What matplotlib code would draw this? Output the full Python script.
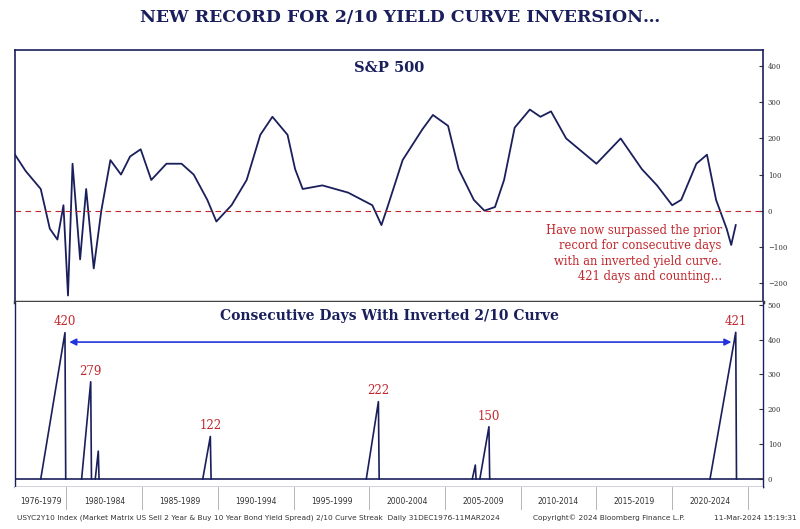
import matplotlib.pyplot as plt
from matplotlib.ticker import MultipleLocator

# 2/10 spread (bps)
spread_year = [1976.6, 1977.3, 1978.3, 1978.9, 1979.4, 1979.8, 1980.1, 1980.4, 1980.9, 1981.3,
               1981.8, 1982.3, 1982.9, 1983.6, 1984.2, 1984.9, 1985.6, 1986.6, 1987.6, 1988.4,
               1989.3, 1989.9, 1990.9, 1991.9, 1992.8, 1993.6, 1994.6, 1995.1, 1995.6, 1996.9,
               1998.6, 2000.2, 2000.8, 2001.2, 2002.2, 2003.5, 2004.2, 2005.2, 2005.9, 2006.9,
               2007.6, 2008.3, 2008.9, 2009.6, 2010.6, 2011.3, 2012.0, 2013.0, 2014.0, 2015.0,
               2016.6, 2018.0, 2019.0, 2020.0, 2020.6, 2021.6, 2022.3, 2022.9, 2023.6, 2023.9, 2024.2]
spread_bps = [155, 110, 60, -50, -80, 15, -235, 130, -135, 60,
              -160, 0, 140, 100, 150, 170, 85, 130, 130, 100,
              30, -30, 15, 85, 210, 260, 210, 115, 60, 70,
              50, 15, -40, 10, 140, 225, 265, 235, 115, 30,
              0, 10, 85, 230, 280, 260, 275, 200, 165, 130,
              200, 115, 70, 15, 30, 130, 155, 30, -50, -95, -40]

# inverted-curve streaks: start year, peak year, peak days
streak_start = [1978.3, 1981.0, 1981.9, 1989.0, 1999.8, 2006.8, 2007.3, 2022.5]
streak_peak = [1979.9, 1981.6, 1982.1, 1989.5, 2000.6, 2007.0, 2007.9, 2024.2]
streak_days = [420, 279, 80, 122, 222, 40, 150, 421]
labels_shown = [0, 1, 3, 4, 6, 7]

band_labels = ['1976-1979', '1980-1984', '1985-1989', '1990-1994', '1995-1999',
               '2000-2004', '2005-2009', '2010-2014', '2015-2019', '2020-2024']

navy = '#1a1f5c'
red = '#c0272d'
W, H = 800, 529
fig = plt.figure(figsize=(8, 5.29), dpi=100)
plt.rcParams['font.family'] = 'DejaVu Serif'

def ax_px(l, t, r, b):
    return fig.add_axes([l / W, 1 - b / H, (r - l) / W, (b - t) / H])

fig.text(0.5, 1 - 18 / H, 'NEW RECORD FOR 2/10 YIELD CURVE INVERSION…', ha='center', va='center',
         fontsize=12.5, fontweight='bold', color=navy)

xlim = (1976.6, 2026.0)
ax1 = ax_px(15, 50, 763, 302)
ax1.plot(spread_year, spread_bps, color=navy, lw=1.3)
ax1.axhline(0, color=red, ls=(0, (5, 4)), lw=0.8)
ax1.set_xlim(xlim); ax1.set_ylim(-253, 445)
ax1.yaxis.tick_right()
ax1.yaxis.set_major_locator(MultipleLocator(100))
ax1.tick_params(axis='y', labelsize=5, length=3, direction='in', colors='#333333')
ax1.set_xticks([])
ax1.text(0.5, 0.955, 'S&P 500', transform=ax1.transAxes, ha='center', va='top',
         fontsize=10.5, fontweight='bold', color=navy)
ax1.text(0.945, 0.31, 'Have now surpassed the prior\nrecord for consecutive days\nwith an inverted yield curve.\n421 days and counting…',
         transform=ax1.transAxes, ha='right', va='top', fontsize=8.3, color=red, linespacing=1.25)
for s in ax1.spines.values():
    s.set_color(navy); s.set_linewidth(1.2)
ax1.spines['bottom'].set_color('#444444'); ax1.spines['bottom'].set_linewidth(2.5)

ax2 = ax_px(15, 302, 763, 487)
for i in range(len(streak_days)):
    ax2.plot([streak_start[i], streak_peak[i], streak_peak[i] + 0.05],
             [0, streak_days[i], 0], color=navy, lw=1.2)
    if i in labels_shown:
        ax2.text(streak_peak[i], streak_days[i] + 12, str(streak_days[i]), ha='center', va='bottom',
                 fontsize=8.5, color=red)
ax2.axhline(0, color=navy, lw=1.2, zorder=0)
ax2.annotate('', xy=(streak_peak[7] - 0.1, 393), xytext=(streak_peak[0] + 0.1, 393),
             arrowprops=dict(arrowstyle='<|-|>', color='#2233dd', lw=1.2, mutation_scale=10))
ax2.set_xlim(xlim); ax2.set_ylim(-23, 508)
ax2.yaxis.tick_right()
ax2.yaxis.set_major_locator(MultipleLocator(100))
ax2.tick_params(axis='y', labelsize=5, length=3, direction='in', colors='#333333')
ax2.set_xticks([])
ax2.text(0.5, 0.96, 'Consecutive Days With Inverted 2/10 Curve', transform=ax2.transAxes,
         ha='center', va='top', fontsize=10, fontweight='bold', color=navy)
for s in ax2.spines.values():
    s.set_color(navy); s.set_linewidth(1.0)
ax2.spines['top'].set_visible(False)

# year band strip
ax3 = ax_px(15, 487, 763, 510)
ax3.set_xlim(xlim); ax3.set_ylim(0, 1)
ax3.set_yticks([])
bounds = [1976.6] + [1980 + 5 * k for k in range(10)]
ax3.set_xticks(bounds[1:])
ax3.tick_params(axis='x', length=0, labelbottom=False)
for b in bounds[1:]:
    ax3.axvline(b, color='#aaaaaa', lw=0.6)
for k, lab in enumerate(band_labels):
    lo = bounds[k]; hi = bounds[k + 1] if k + 1 < len(bounds) else 2025
    ax3.text((lo + hi) / 2, 0.35, lab, ha='center', va='center', fontsize=5.5, color='#333333',
             family='DejaVu Sans Condensed' if False else 'DejaVu Sans')
for s in ax3.spines.values():
    s.set_visible(False)

fig.text(17 / W, 1 - 518 / H, 'USYC2Y10 Index (Market Matrix US Sell 2 Year & Buy 10 Year Bond Yield Spread) 2/10 Curve Streak  Daily 31DEC1976-11MAR2024',
         fontsize=5.3, color='#333333', va='center', family='DejaVu Sans')
fig.text(533 / W, 1 - 518 / H, 'Copyright© 2024 Bloomberg Finance L.P.', fontsize=5.3, color='#333333',
         va='center', family='DejaVu Sans')
fig.text(797 / W, 1 - 518 / H, '11-Mar-2024 15:19:31', fontsize=5.3, color='#333333',
         va='center', ha='right', family='DejaVu Sans')

fig.savefig('out.png', dpi=100)
